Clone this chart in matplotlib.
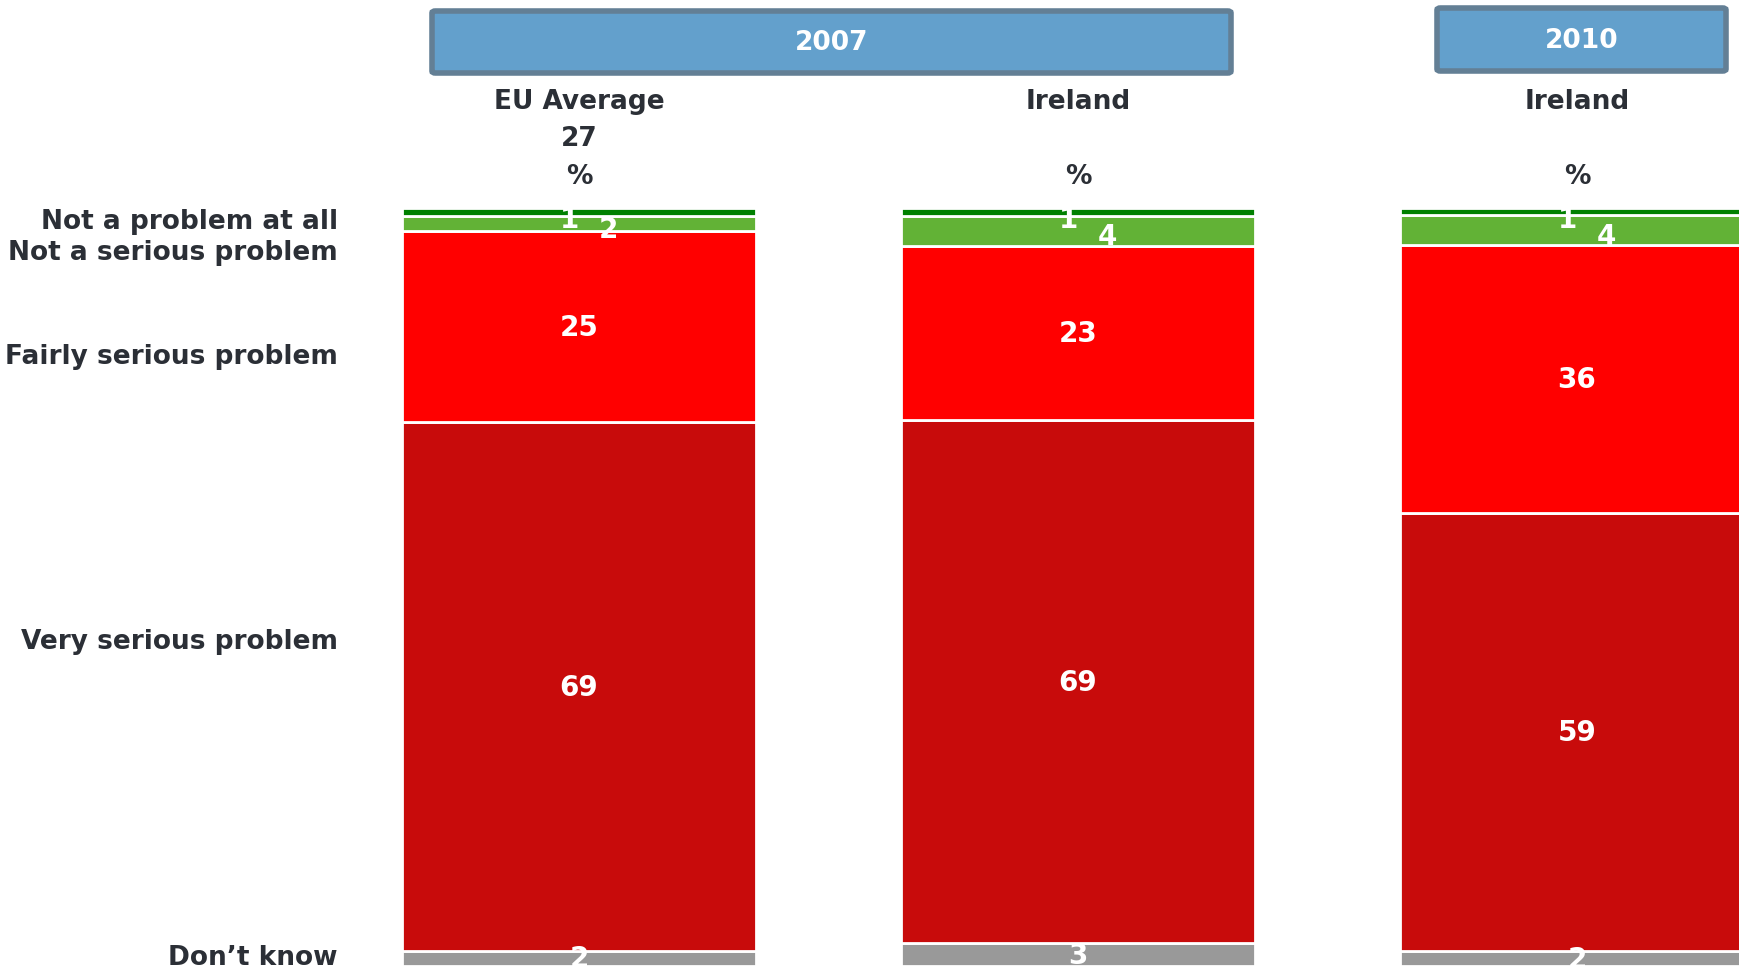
import numpy as np
import matplotlib
matplotlib.use('Agg')
import matplotlib.pyplot as plt
from matplotlib.patches import FancyBboxPatch
import matplotlib.transforms as mtransforms

# data (percentages, bottom to top of each bar)
groups = ['EU Average\n27', 'Ireland', 'Ireland']
years = ['2007', '2010']
categories = ['Don\u2019t know', 'Very serious problem', 'Fairly serious problem',
              'Not a serious problem', 'Not a problem at all']
dont_know = [2, 3, 2]
very_serious = [69, 69, 59]
fairly_serious = [25, 23, 36]
not_serious = [2, 4, 4]
not_at_all = [1, 1, 1]

colors = ['#999999', '#C80B0B', '#FF0000', '#62B236', '#008000']
text_col = '#2B2F36'

plt.rcParams['font.family'] = ['DejaVu Sans']
plt.rcParams['font.weight'] = 'bold'

W, H = 1739, 970
fig = plt.figure(figsize=(W / 100, H / 100), dpi=100)

# axes placed so the bars match the reference pixel layout
ax = fig.add_axes([402 / W, 3 / H, (W - 402) / W, 758 / H])
ax.set_xlim(-0.3547, 2.3246)
ax.set_ylim(0, 1)
ax.axis('off')

series = [dont_know, very_serious, fairly_serious, not_serious, not_at_all]
totals = np.sum(series, axis=0)
x = np.arange(len(groups))
bottom = np.zeros(len(groups))
for k, vals in enumerate(series):
    h = np.array(vals) / totals
    ax.bar(x, h, width=0.7094, bottom=bottom, color=colors[k],
           edgecolor='white', linewidth=2)
    for i in range(len(x)):
        dx, dy = 0, 0
        if k == 4:      # tiny top slice
            dx, dy = -7, -5
        elif k == 3:    # small green slice
            dx, dy = 21, -4
        ax.annotate(str(vals[i]), (x[i], bottom[i] + h[i] / 2),
                    xytext=(dx, dy), textcoords='offset points',
                    ha='center', va='center', color='white',
                    fontsize=20, fontweight='bold', clip_on=False)
    bottom += h

# row labels on the left
label_y = [958, 642, 357, 253, 222]
for lab, py in zip(categories, label_y):
    fig.text(338 / W, 1 - py / H, lab, ha='right', va='center',
             fontsize=19, fontweight='bold', color=text_col)

# column headers
trans = mtransforms.blended_transform_factory(ax.transData, fig.transFigure)
for i, g in enumerate(groups):
    lines = g.split('\n')
    for j, ln in enumerate(lines):
        ax.text(x[i], 1 - (102 + 37 * j) / H, ln, transform=trans,
                ha='center', va='center', fontsize=19, fontweight='bold',
                color=text_col)
    ax.text(x[i], 1 - 177 / H, '%', transform=trans, ha='center',
            va='center', fontsize=19, fontweight='bold', color=text_col)

# year boxes
boxes = [(432, 12, 1231, 74), (1437, 9, 1726, 72)]
for yr, (x0, y0, x1, y1) in zip(years, boxes):
    p = FancyBboxPatch((x0 / W, 1 - y1 / H), (x1 - x0) / W, (y1 - y0) / H,
                       boxstyle='round,pad=0,rounding_size=0.002',
                       transform=fig.transFigure, facecolor='#63A0CC',
                       edgecolor='#637F95', linewidth=4)
    fig.add_artist(p)
    fig.text((x0 + x1) / 2 / W, 1 - (y0 + y1) / 2 / H, yr, ha='center',
             va='center', fontsize=19, fontweight='bold', color='white')

fig.savefig('out.png', dpi=100)
